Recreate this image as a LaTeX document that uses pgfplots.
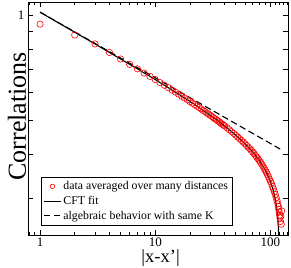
\documentclass[border=0pt]{standalone}
\usepackage{fontspec}
\setmainfont{Liberation Serif}
\usepackage{pgfplots}
\pgfplotsset{compat=1.18}
\begin{document}
\begin{tikzpicture}
\path[use as bounding box] (-28pt,-32pt) rectangle (263pt,235pt);
\begin{axis}[
  at={(0,0)}, anchor=south west,
  scale only axis, width=260pt, height=233pt,
  xmode=log, ymode=log,
  xmin=0.786, xmax=142, ymin=0.235, ymax=1.09,
  xtick={1,10,100}, xticklabels={1,10,100},
  minor xtick={0.8,0.9,2,3,4,5,6,7,8,9,20,30,40,50,60,70,80,90,110,120,130,140},
  ytick={0.3,0.4,0.5,0.6,0.7,0.8,0.9,1}, yticklabels={,,,,,,,1},
  minor ytick={},
  major tick length=5pt, minor tick length=3pt,
  tick style={black, line width=0.6pt},
  axis line style={line width=0.7pt},
  ticklabel style={font=\fontsize{13}{13}\selectfont},
  xticklabel style={yshift=1pt},
  /pgf/number format/assume math mode=true,
  xlabel={\textbar x-x’\textbar},
  ylabel={Correlations},
  xlabel style={font=\fontsize{18.5}{18.5}\selectfont, inner sep=0pt, at={(axis description cs:0.51,-0.118)}, anchor=base},
  ylabel style={font=\fontsize{26}{26}\selectfont, at={(axis description cs:-0.008,0.51)}, anchor=base, rotate=0},
  legend style={at={(axis description cs:0.05,0.042)}, anchor=south west,
    font=\fontsize{11.8}{13}\selectfont, draw=black, line width=0.6pt,
    row sep=1pt, inner xsep=2pt, inner ysep=2.2pt},
  legend cell align=left,
]
\addplot[only marks, mark=o, mark size=3.2pt, red, mark options={line width=0.6pt},
  legend image post style={mark size=2.3pt}] coordinates {
(1,0.942) (2,0.877) (3,0.827) (4,0.782) (5,0.749) (6,0.723) (7,0.702) (8,0.683) (9,0.668) (10,0.654)
(11,0.641) (12,0.630) (13,0.620) (14,0.610) (15,0.602) (16,0.594) (17,0.586) (18,0.579) (19,0.573) (20,0.566)
(21,0.560) (22,0.555) (23,0.549) (24,0.544) (25,0.539) (26,0.534) (27,0.530) (28,0.525) (29,0.521) (30,0.517)
(31,0.513) (32,0.509) (33,0.505) (34,0.502) (35,0.498) (36,0.495) (37,0.491) (38,0.488) (39,0.485) (40,0.482)
(42,0.476) (44,0.470) (46,0.464) (48,0.4586) (50,0.4532) (52,0.448) (54,0.443) (56,0.4383) (58,0.4335) (60,0.4287)
(62,0.424) (64,0.4195) (66,0.415) (68,0.4106) (70,0.406) (72,0.4016) (74,0.397) (76,0.3926) (78,0.3881) (80,0.3837)
(82,0.3792) (84,0.3747) (86,0.3700) (88,0.3653) (90,0.3604) (92,0.3555) (94,0.3504) (96,0.3451) (98,0.3397) (100,0.3345)
(102,0.330) (104,0.3236) (106,0.3184) (108,0.3126) (110,0.3069) (112,0.3006) (114,0.2944) (116,0.2884) (117,0.2838) (118,0.2786)
(119,0.2735) (120,0.2679) (121,0.2630) (122,0.2570) (123,0.2661) (124,0.2523) (125,0.2754)
};
\addlegendentry{data averaged over many distances}
\addplot[black, line width=1.1pt] coordinates {
(1,1.019) (2,0.893) (3,0.827) (4,0.782) (5,0.749) (6,0.723) (7,0.702) (8,0.683) (9,0.668) (10,0.654)
(11,0.641) (12,0.630) (13,0.620) (14,0.610) (15,0.602) (16,0.594) (17,0.586) (18,0.579) (19,0.573) (20,0.566)
(22,0.555) (24,0.544) (26,0.534) (28,0.525) (30,0.517) (32,0.509) (34,0.502) (36,0.495) (38,0.488) (40,0.482)
(42,0.476) (44,0.470) (46,0.464) (48,0.4586) (50,0.4532) (52,0.448) (54,0.443) (56,0.4383) (58,0.4335) (60,0.4287)
(62,0.424) (64,0.4195) (66,0.415) (68,0.4106) (70,0.406) (72,0.4016) (74,0.397) (76,0.3926) (78,0.3881) (80,0.3837)
(82,0.3792) (84,0.3747) (86,0.3700) (88,0.3653) (90,0.3604) (92,0.3555) (94,0.3504) (96,0.3451) (98,0.3397) (100,0.3340)
(102,0.3279) (104,0.3214) (106,0.3143) (108,0.3064) (110,0.2977) (112,0.2876) (114,0.2752) (116,0.2593) (117,0.2486) (118,0.2344)
(118.5,0.2251) (119,0.2125) (119.5,0.1927)
};
\addlegendentry{CFT fit}
\addplot[black, line width=1.1pt, dash pattern=on 6.5pt off 3.5pt] coordinates {
(1,1.02) (126,0.411)
};
\addlegendentry{algebraic behavior with same K}
\end{axis}
\end{tikzpicture}
\end{document}
